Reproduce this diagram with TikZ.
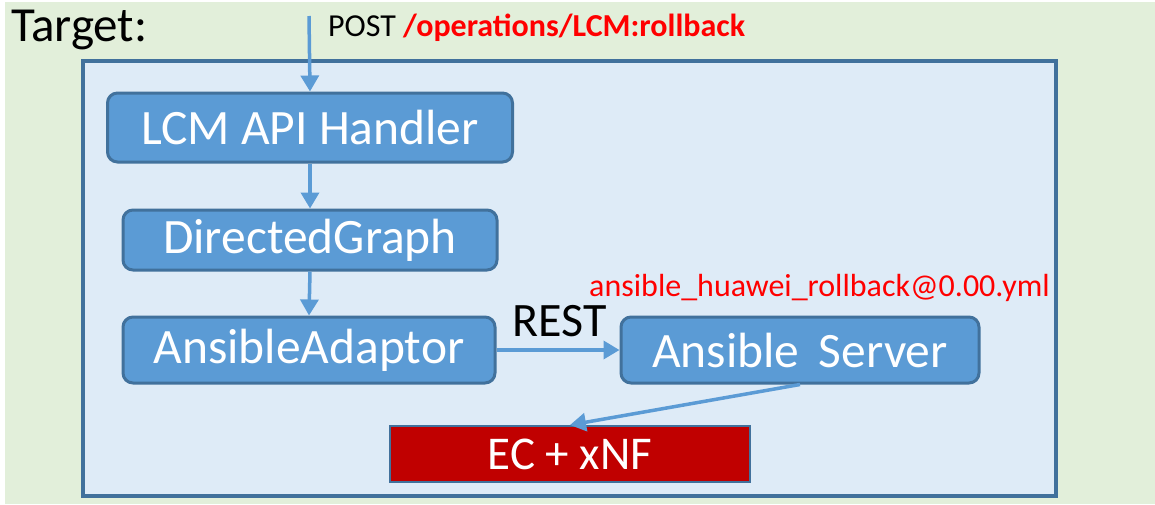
\documentclass[tikz,border=0pt]{standalone}
\usepackage{fontspec}
\setmainfont{Carlito}
\usetikzlibrary{arrows.meta}
\definecolor{pagegreen}{RGB}{226,239,218}
\definecolor{framefill}{RGB}{222,235,247}
\definecolor{frameline}{RGB}{65,113,156}
\definecolor{boxfill}{RGB}{91,155,213}
\definecolor{ecred}{RGB}{192,0,0}
\definecolor{labelred}{RGB}{255,0,0}
\tikzset{
  block/.style={draw=frameline, line width=3pt, fill=boxfill, rounded corners=10pt,
    text=white, font=\fontsize{49.5}{54}\selectfont, inner sep=0pt},
  flow/.style={draw=boxfill, line width=3.5pt, -{Triangle[length=16pt,width=18pt]}},
}
\begin{document}
\begin{tikzpicture}[x=1pt,y=-1pt]
\useasboundingbox (0,0) rectangle (1155,504);
\fill[white] (0,0) rectangle (1155,504);
\fill[pagegreen] (5,2) rectangle (1155,504);
\draw[frameline, line width=3.5pt, fill=framefill] (83,61) rectangle (1056,496);

\node[anchor=base west, font=\fontsize{49}{54}\selectfont, inner sep=0pt] (title) at (11,41) {Target:};
\node[anchor=base west, font=\fontsize{32}{37}\selectfont, inner sep=0pt] (post) at (328,36)
  {POST \textcolor{labelred}{\bfseries /operations/LCM:rollback}};

\node[block, minimum width=405pt, minimum height=69pt] (handler) at (310,127.5) {LCM API Handler};
\node[block, minimum width=374pt, minimum height=60pt] (graph) at (310,240) {DirectedGraph};
\node[block, minimum width=372pt, minimum height=66pt] (adaptor) at (309,350) {AnsibleAdaptor};
\node[block, minimum width=358pt, minimum height=66pt] (server) at (800,350) {Ansible\, Server};
\node[draw=frameline, line width=2pt, fill=ecred, text=white, inner sep=0pt,
  minimum width=360pt, minimum height=56pt, font=\fontsize{47}{52}\selectfont] (ec) at (570,454) {EC + xNF};

\node[anchor=base east, text=labelred, font=\fontsize{32}{36}\selectfont, inner sep=0pt] (yml) at (1050,296)
  {ansible\_huawei\_rollback@0.00.yml};
\node[anchor=base, font=\fontsize{48}{52}\selectfont, inner sep=0pt] (rest) at (560,336) {REST};

\coordinate (entry) at (309,16);
\draw[flow] (entry) -- (handler.north);
\draw[flow] (handler.south) -- (graph.north);
\draw[flow] (graph.south) -- (adaptor.north);
\draw[flow] (adaptor.east) -- (server.west);
\draw[flow] (server.south) -- (ec.north);
\end{tikzpicture}
\end{document}
